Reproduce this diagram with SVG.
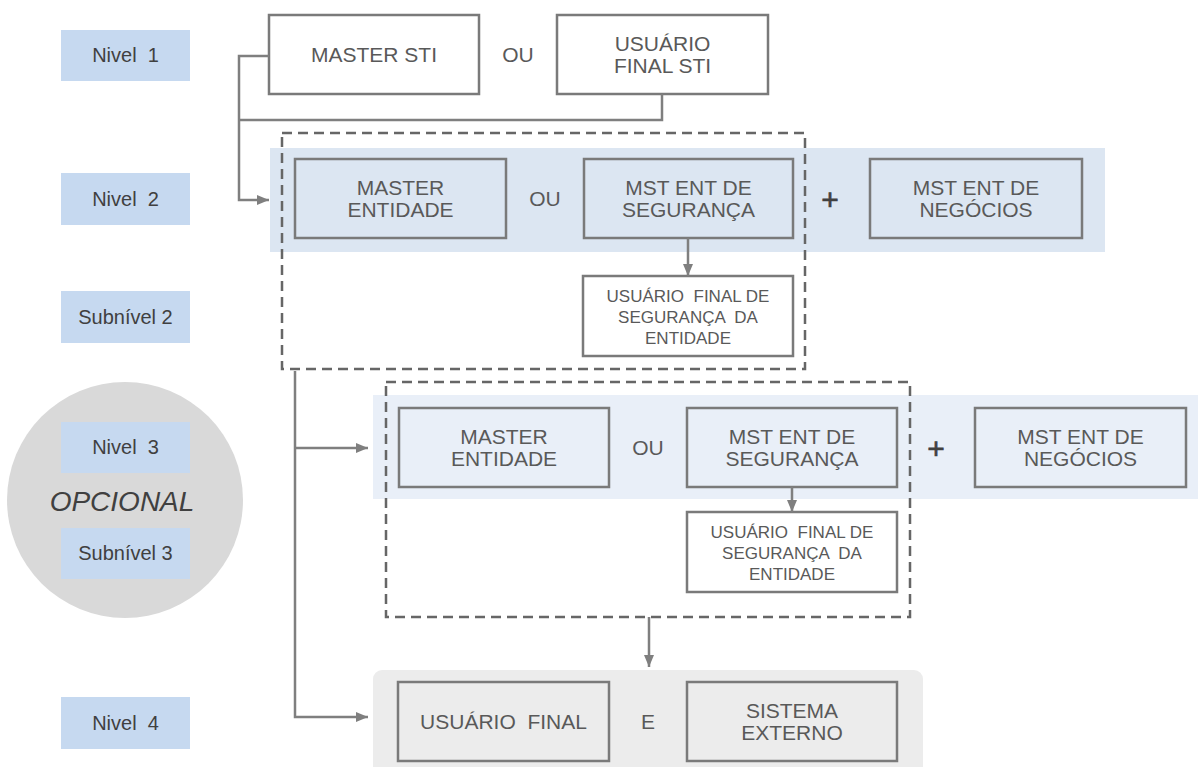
<svg xmlns="http://www.w3.org/2000/svg" width="1198" height="767" viewBox="0 0 1198 767">
<defs>
<style>
.lbl{fill:#c6d9f0}
.lt{font-family:"Liberation Sans",Arial,sans-serif;font-size:20px;fill:#404040;text-anchor:middle;white-space:pre}
.bx{stroke:#7a7a7a;stroke-width:2.5}
.t{font-family:"Liberation Sans",Arial,sans-serif;font-size:21px;fill:#595959;text-anchor:middle;white-space:pre}
.ts{font-family:"Liberation Sans",Arial,sans-serif;font-size:17px;fill:#595959;text-anchor:middle;white-space:pre}
.plus{font-family:"Liberation Sans",Arial,sans-serif;font-size:30px;fill:#404040;text-anchor:middle;stroke:#404040;stroke-width:0.6}
.dash{fill:none;stroke:#666;stroke-width:2.5;stroke-dasharray:10 6}
.c{fill:none;stroke:#7f7f7f;stroke-width:2.5}
</style>
<marker id="ah" markerUnits="userSpaceOnUse" markerWidth="12" markerHeight="12" viewBox="0 0 12 12" refX="12" refY="6" orient="auto">
<path d="M0,1 L12,6 L0,11 Z" fill="#7f7f7f"/>
</marker>
</defs>
<rect width="1198" height="767" fill="#fff"/>

<g id="circle-optional">
<circle cx="125" cy="500" r="118" fill="#d9d9d9"/>
<text x="122" y="511" font-family="Liberation Sans,Arial,sans-serif" font-size="28" font-style="italic" fill="#404040" text-anchor="middle">OPCIONAL</text>
</g>

<g id="label-nivel1"><rect class="lbl" x="61" y="30" width="129" height="51"/><text class="lt" x="125.5" y="62">Nivel  1</text></g>
<g id="label-nivel2"><rect class="lbl" x="61" y="173" width="129" height="52"/><text class="lt" x="125.5" y="206">Nivel  2</text></g>
<g id="label-subnivel2"><rect class="lbl" x="61" y="291" width="129" height="52"/><text class="lt" x="125.5" y="324">Subnível 2</text></g>
<g id="label-nivel3"><rect class="lbl" x="61" y="422" width="129" height="51"/><text class="lt" x="125.5" y="454">Nivel  3</text></g>
<g id="label-subnivel3"><rect class="lbl" x="61" y="528" width="129" height="51"/><text class="lt" x="125.5" y="560">Subnível 3</text></g>
<g id="label-nivel4"><rect class="lbl" x="61" y="697" width="129" height="52"/><text class="lt" x="125.5" y="730">Nivel  4</text></g>

<g id="band-level2"><rect x="270" y="148" width="835" height="104" fill="#dce6f2"/></g>
<g id="band-level3"><rect x="373" y="395" width="825" height="104" fill="#e9eff8"/></g>
<g id="band-level4"><rect x="373" y="670" width="550" height="110" rx="9" fill="#ececec"/></g>

<g id="master-sti"><rect class="bx" x="269" y="15" width="210" height="79" fill="#fff"/><text class="t" x="374" y="62">MASTER STI</text></g>
<g id="ou-1"><text class="t" x="518" y="62">OU</text></g>
<g id="usuario-final-sti"><rect class="bx" x="557" y="15" width="211" height="79" fill="#fff"/><text class="t" x="662.5" y="51">USUÁRIO</text><text class="t" x="662.5" y="73">FINAL STI</text></g>

<g id="group-level2"><rect class="dash" x="282" y="133" width="523" height="236"/></g>
<g id="master-entidade-2"><rect class="bx" x="295" y="159" width="211" height="79" fill="#dce6f2"/><text class="t" x="400.5" y="195">MASTER</text><text class="t" x="400.5" y="217">ENTIDADE</text></g>
<g id="ou-2"><text class="t" x="545" y="206">OU</text></g>
<g id="mst-seguranca-2"><rect class="bx" x="584" y="159" width="209" height="79" fill="#dce6f2"/><text class="t" x="688.5" y="195">MST ENT DE</text><text class="t" x="688.5" y="217">SEGURANÇA</text></g>
<g id="plus-2"><text class="plus" x="830" y="210">+</text></g>
<g id="mst-negocios-2"><rect class="bx" x="870" y="159" width="212" height="79" fill="#dce6f2"/><text class="t" x="976" y="195">MST ENT DE</text><text class="t" x="976" y="217">NEGÓCIOS</text></g>
<g id="usuario-seg-2"><rect class="bx" x="583" y="276" width="210" height="80" fill="#fff"/><text class="ts" x="688" y="302">USUÁRIO  FINAL DE</text><text class="ts" x="688" y="323">SEGURANÇA  DA</text><text class="ts" x="688" y="344">ENTIDADE</text></g>

<g id="group-level3"><rect class="dash" x="386" y="382" width="524" height="235"/></g>
<g id="master-entidade-3"><rect class="bx" x="399" y="408" width="210" height="79" fill="#e9eff8"/><text class="t" x="504" y="444">MASTER</text><text class="t" x="504" y="466">ENTIDADE</text></g>
<g id="ou-3"><text class="t" x="648" y="455">OU</text></g>
<g id="mst-seguranca-3"><rect class="bx" x="687" y="408" width="210" height="79" fill="#e9eff8"/><text class="t" x="792" y="444">MST ENT DE</text><text class="t" x="792" y="466">SEGURANÇA</text></g>
<g id="plus-3"><text class="plus" x="936" y="459">+</text></g>
<g id="mst-negocios-3"><rect class="bx" x="975" y="408" width="211" height="79" fill="#e9eff8"/><text class="t" x="1080.5" y="444">MST ENT DE</text><text class="t" x="1080.5" y="466">NEGÓCIOS</text></g>
<g id="usuario-seg-3"><rect class="bx" x="687" y="512" width="210" height="80" fill="#fff"/><text class="ts" x="792" y="538">USUÁRIO  FINAL DE</text><text class="ts" x="792" y="559">SEGURANÇA  DA</text><text class="ts" x="792" y="580">ENTIDADE</text></g>

<g id="usuario-final-4"><rect class="bx" x="398" y="682" width="211" height="79" fill="#ececec"/><text class="t" x="503.5" y="729">USUÁRIO  FINAL</text></g>
<g id="e-4"><text class="t" x="648" y="729">E</text></g>
<g id="sistema-externo-4"><rect class="bx" x="687" y="682" width="210" height="79" fill="#ececec"/><text class="t" x="792" y="718">SISTEMA</text><text class="t" x="792" y="740">EXTERNO</text></g>

<g id="connectors">
<path class="c" d="M269,56 H239 V200 H269" marker-end="url(#ah)"/>
<path class="c" d="M662,94 V120 H239"/>
<path class="c" d="M688,238 V276" marker-end="url(#ah)"/>
<path class="c" d="M295,371 V717 H368" marker-end="url(#ah)"/>
<path class="c" d="M295,448 H368" marker-end="url(#ah)"/>
<path class="c" d="M792,487 V512" marker-end="url(#ah)"/>
<path class="c" d="M649,617 V667" marker-end="url(#ah)"/>
</g>
</svg>
